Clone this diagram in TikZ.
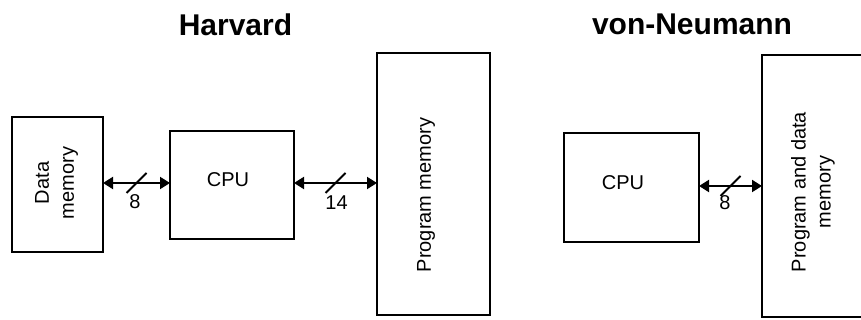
\documentclass[tikz,border=0pt]{standalone}
\usepackage{fontspec}
\setmainfont{Liberation Sans}
\usetikzlibrary{arrows.meta,calc}
\begin{document}
\begin{tikzpicture}[x=1pt,y=1pt,
  box/.style={draw,line width=2.2pt,inner sep=0pt,outer sep=0pt},
  bus/.style={{Triangle[length=10pt,width=12pt]}-{Triangle[length=10pt,width=12pt]},line width=2pt},
  slash/.style={line width=1.8pt},
  lbl/.style={font=\fontsize{20}{24}\selectfont,inner sep=0pt},
  txt/.style={font=\fontsize{20}{24}\selectfont,inner sep=0pt},
  ttl/.style={font=\bfseries\fontsize{30}{36}\selectfont,anchor=base,inner sep=0pt},
  rot/.style={rotate=90,align=center,font=\fontsize{20}{25}\selectfont,inner sep=0pt}]
\useasboundingbox (0,0) rectangle (861,320);
\fill[white] (0,0) rectangle (861,320);
\clip (0,0) rectangle (861,320);
% titles
\node[ttl] (th) at (235.5,284) {Harvard};
\node[ttl] (tv) at (692,285) {von-Neumann};
% boxes
\node[box,minimum width=91pt,minimum height=135pt] (dm) at (57.5,135.5) {};
\node[box,minimum width=124pt,minimum height=108pt] (cpuh) at (232,135) {};
\node[box,minimum width=113pt,minimum height=262pt] (pm) at (433.5,136) {};
\node[box,minimum width=135pt,minimum height=109pt] (cpuv) at (631.5,132.5) {};
\node[box,minimum width=102pt,minimum height=262pt] (pdm) at (813,134) {};
% texts
\node[rot] (dmt) at (56.5,137) {Data\\memory};
\node[txt] (cpuht) at (228,140) {CPU};
\node[rot] (pmt) at (426,125) {Program memory};
\node[txt] (cpuvt) at (623,137) {CPU};
\node[rot] (pdmt) at (813,128) {Program and data\\memory};
% buses
\draw[bus] ([yshift=1.5pt]dm.east) -- coordinate (m1) ([yshift=2pt]cpuh.west);
\draw[slash] ($(m1)+(-10,-10)$) -- ($(m1)+(10,10)$);
\node[lbl] (l1) at ($(m1)+(-1.5,-19)$) {8};
\draw[bus] ([yshift=2pt]cpuh.east) -- coordinate (m2) ([yshift=1pt]pm.west);
\draw[slash] ($(m2)+(-10,-10)$) -- ($(m2)+(10,10)$);
\node[lbl] (l2) at ($(m2)+(1,-20)$) {14};
\draw[bus] ([yshift=1.5pt]cpuv.east) -- coordinate (m3) (pdm.west);
\draw[slash] ($(m3)+(-10,-10)$) -- ($(m3)+(10,10)$);
\node[lbl] (l3) at ($(m3)+(-5.5,-17)$) {8};
\end{tikzpicture}
\end{document}
